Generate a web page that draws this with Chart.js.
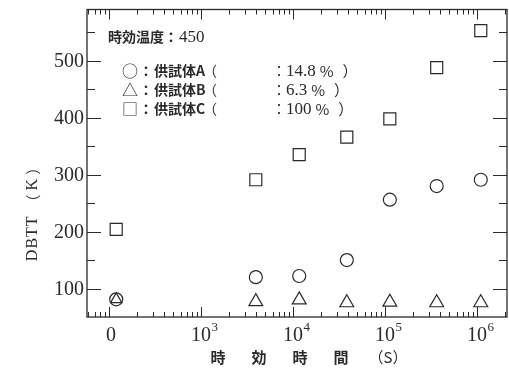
<!DOCTYPE html>
<html><head><meta charset="utf-8">
<script src="https://cdn.jsdelivr.net/npm/chart.js@4"></script>
<style>html,body{margin:0;padding:0;background:#fff}#wrap{width:509px;height:378px;position:relative}</style>
</head><body><div id="wrap"><canvas id="c" width="509" height="378"></canvas></div>
<script>
// ---- data ----
const timeA = [120, 3950, 11700, 38500, 113000, 365000, 1100000];
const dbttA = [81, 120, 122, 150, 256, 280, 291];
const timeB = [120, 3950, 11700, 38500, 113000, 365000, 1100000];
const dbttB = [81, 77, 80, 75, 76, 75, 75];
const timeC = [120, 3950, 11700, 38500, 113000, 365000, 1100000];
const dbttC = [204, 291, 335, 366, 398, 488, 553];
const xMajorTicks = [100, 1000, 10000, 100000, 1000000];
const xTickLabels = ['0', '10^3', '10^4', '10^5', '10^6'];
const yMajorTicks = [100, 200, 300, 400, 500];
const yMinorTicks = [150, 250, 350, 450, 550];
const yTickLabels = ['100', '200', '300', '400', '500'];
const yTitle = ['DBTT', '（', 'K', '）'];
const xTitle = ['時', '効', '時', '間', '（S）'];
const boxTitle = ['時効温度：', '450'];
const legendRows = [
  ['○', '供試体A', '14.8'],
  ['△', '供試体B', '6.3'],
  ['□', '供試体C', '100']
];

const INK = '#2a2a2a';
const SERIF = "'Liberation Serif', 'DejaVu Serif', serif";
const CJK = "'Noto Sans CJK JP', 'Noto Sans', sans-serif";

const xy = (xs, ys) => xs.map((v, i) => ({x: v, y: ys[i]}));

const deco = {
  id: 'deco',
  beforeDraw(chart) {
    const ctx = chart.ctx;
    ctx.save(); ctx.fillStyle = '#fff'; ctx.fillRect(0, 0, chart.width, chart.height); ctx.restore();
  },
  afterDraw(chart) {
    const {ctx, chartArea: a, scales: {x, y}} = chart;
    ctx.save();
    ctx.strokeStyle = INK;
    ctx.lineWidth = 1;
    // x ticks (log minor + major), bottom and top, inward
    for (let d = 1; d <= 6; d++) {
      for (let m = 1; m <= 9; m++) {
        const v = m * Math.pow(10, d);
        if (v <= x.min || v >= x.max) continue;
        const px = Math.round(x.getPixelForValue(v)) + 0.5;
        const len = m === 1 ? 10 : 5;
        ctx.beginPath();
        ctx.moveTo(px, a.bottom); ctx.lineTo(px, a.bottom - len);
        ctx.moveTo(px, a.top); ctx.lineTo(px, a.top + len);
        ctx.stroke();
      }
    }
    // y ticks left and right, inward
    const yt = (v, len) => {
      const py = Math.round(y.getPixelForValue(v)) + 0.5;
      ctx.beginPath();
      ctx.moveTo(a.left, py); ctx.lineTo(a.left + len, py);
      ctx.moveTo(a.right, py); ctx.lineTo(a.right - len, py);
      ctx.stroke();
    };
    yMajorTicks.forEach(v => yt(v, 14));
    yMinorTicks.forEach(v => yt(v, 8));
    // frame
    ctx.lineWidth = 1.3;
    ctx.strokeRect(a.left, a.top, a.right - a.left, a.bottom - a.top);

    ctx.fillStyle = INK;
    // y tick labels
    ctx.font = '20px ' + SERIF;
    ctx.textAlign = 'right';
    ctx.textBaseline = 'middle';
    yMajorTicks.forEach((v, i) => {
      ctx.fillText(yTickLabels[i], a.left - 3, y.getPixelForValue(v) + 1);
    });

    // x tick labels
    ctx.textBaseline = 'alphabetic';
    xMajorTicks.forEach((v, i) => {
      const px = x.getPixelForValue(v) + (i === 0 ? 2 : 0);
      const parts = xTickLabels[i].split('^');
      ctx.font = '20px ' + SERIF;
      const w = ctx.measureText(parts[0]).width;
      ctx.textAlign = 'left';
      ctx.fillText(parts[0], px - w / 2, a.bottom + 24);
      if (parts[1]) {
        ctx.font = '13px ' + SERIF;
        ctx.fillText(parts[1], px + w / 2 + 0.5, a.bottom + 14);
      }
    });

    // y title (rotated)
    ctx.save();
    ctx.translate(33, 210);
    ctx.rotate(-Math.PI / 2);
    ctx.textBaseline = 'middle';
    ctx.textAlign = 'left';
    const segs = [[yTitle[0], '16px ' + SERIF, 6], [yTitle[1], '15px ' + CJK, 3], [yTitle[2], '16px ' + SERIF, 3], [yTitle[3], '15px ' + CJK, 0]];
    let tot = 0;
    ctx.letterSpacing = '1px';
    segs.forEach(s => { ctx.font = s[1]; tot += ctx.measureText(s[0]).width + s[2]; });
    let sx = -tot / 2;
    segs.forEach(s => { ctx.font = s[1]; ctx.fillText(s[0], sx, 0); sx += ctx.measureText(s[0]).width + s[2]; });
    ctx.letterSpacing = '0px';
    ctx.restore();

    // x title
    ctx.textBaseline = 'middle';
    ctx.textAlign = 'center';
    const xCenters = [218, 259, 300, 341, 388];
    xTitle.forEach((t, i) => {
      ctx.font = (i < 4 ? 'bold 15px ' : '15px ') + CJK;
      ctx.fillText(t, xCenters[i], 357);
    });

    // box text
    ctx.textAlign = 'left';
    ctx.font = 'bold 14px ' + CJK;
    ctx.fillText(boxTitle[0], 108, 37);
    const tw = ctx.measureText(boxTitle[0]).width;
    ctx.font = '17px ' + SERIF;
    ctx.fillText(boxTitle[1], 108 + tw + 1, 38);

    const rowY = [71, 90, 109];
    legendRows.forEach((r, i) => {
      const yy = rowY[i];
      ctx.font = '16px ' + CJK;
      ctx.textAlign = 'center';
      ctx.fillText(r[0], 130, yy);
      ctx.textAlign = 'left';
      ctx.font = 'bold 14px ' + CJK;
      ctx.fillText('：', 139, yy);
      ctx.fillText(r[1], 154, yy);
      ctx.font = '14px ' + CJK;
      ctx.fillText('（', 203, yy);
      ctx.fillText('：', 272, yy);
      ctx.font = '17px ' + SERIF;
      ctx.fillText(r[2], 286, yy + 1);
      let nx = 286 + ctx.measureText(r[2]).width + 4;
      ctx.font = '15px ' + CJK;
      ctx.fillText('%', nx, yy);
      nx += ctx.measureText('%').width + 9;
      ctx.fillText('）', nx, yy);
    });
    ctx.restore();
  }
};

const common = {
  showLine: false,
  backgroundColor: 'rgba(255,255,255,0)',
  borderColor: INK,
  pointBorderWidth: 1.2,
  pointBackgroundColor: 'rgba(255,255,255,0)'
};

new Chart(document.getElementById('c'), {
  type: 'scatter',
  data: {
    datasets: [
      Object.assign({label: '供試体A', data: xy(timeA, dbttA), pointStyle: 'circle', pointRadius: 6.5}, common),
      Object.assign({label: '供試体B', data: xy(timeB, dbttB), pointStyle: 'triangle',
        pointRadius: c => c.dataIndex === 0 ? 6.5 : 8}, common),
      Object.assign({label: '供試体C', data: xy(timeC, dbttC), pointStyle: 'rect', pointRadius: 8.5}, common)
    ]
  },
  options: {
    responsive: false,
    animation: false,
    events: [],
    layout: {autoPadding: false, padding: {left: 87, right: 2, top: 9.5, bottom: 61}},
    plugins: {legend: {display: false}, tooltip: {enabled: false}},
    scales: {
      x: {type: 'logarithmic', min: 57.8, max: 2.12e6, display: false},
      y: {type: 'linear', min: 50, max: 590, display: false}
    }
  },
  plugins: [deco]
});
</script></body></html>
